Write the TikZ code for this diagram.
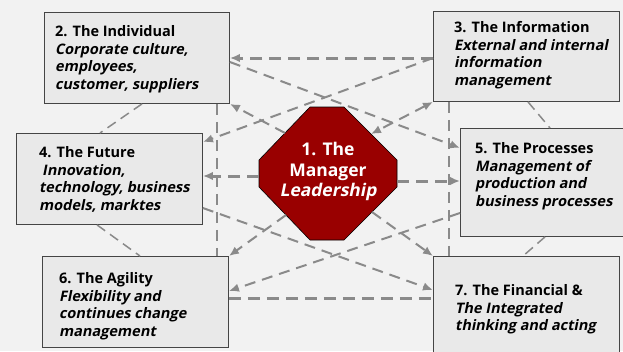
\documentclass[tikz,border=0pt]{standalone}
\usepackage{fontspec}
\setmainfont{Open Sans}
\newfontfamily\descfont[FakeSlant=0.2]{Open Sans}
\usetikzlibrary{arrows.meta}
\definecolor{bggray}{HTML}{F2F2F2}
\definecolor{boxgray}{HTML}{E9E9E9}
\definecolor{boxline}{HTML}{454545}
\definecolor{lnkgray}{HTML}{8A8A8A}
\definecolor{mgrred}{HTML}{990000}
\newcommand{\desc}{\descfont\bfseries}

\begin{document}
\begin{tikzpicture}[x=1pt,y=-1pt,>={Latex[length=10pt,width=8.5pt]},
  box/.style={rectangle,draw=boxline,line width=0.9pt,fill=boxgray,anchor=north west,inner sep=0pt},
  txt/.style={anchor=north west,align=left,inner sep=0pt,font=\fontsize{14.5}{17.8}\selectfont\bfseries},
  mgrtxt/.style={anchor=north,align=center,inner sep=0pt,text=white,font=\fontsize{17.5}{20.5}\selectfont\bfseries},
  lnk/.style={draw=lnkgray,line width=2pt,dash pattern=on 11pt off 7pt},
  bar/.style={lnk,line width=3pt,dash pattern=on 12pt off 7pt},
  tie/.style={lnk,line width=1.5pt,dash pattern=on 10pt off 6pt}]

	\useasboundingbox (0,0) rectangle (623,351);
	\fill[bggray] (0,0) rectangle (623,351);

	% the six fields
	\node[box, minimum width=185, minimum height=91] (ind) at (44,12) {};
	\node[box, minimum width=186, minimum height=90] (inf) at (433,11) {};
	\node[box, minimum width=186, minimum height=91] (fut) at (16,133) {};
	\node[box, minimum width=170, minimum height=108] (pro) at (460,128) {};
	\node[box, minimum width=186, minimum height=91] (agi) at (42,256) {};
	\node[box, minimum width=186, minimum height=110] (fin) at (433,256) {};

	\node[txt] (indt) at (55,25) {2. The Individual\\\desc Corporate culture,\\\desc employees,\\\desc customer, suppliers};
	\node[txt] (inft) at (454,21) {3. The Information\\\desc External and internal\\\desc information\\\desc management};
	\node[txt] (futt) at (39,146) {4. The Future\\\hspace{3pt}\desc Innovation,\\\desc technology, business\\\desc models, marktes};
	\node[txt] (prot) at (475,142) {5. The Processes\\\desc Management of\\\desc production and\\\desc business processes};
	\node[txt] (agit) at (59,272) {6. The Agility\\\desc Flexibility and\\\desc continues change\\\desc management};
	\node[txt] (fint) at (455,284) {7. The Financial \&\\\desc The Integrated\\\desc thinking and acting};

	% links between the fields
	\draw[tie] (142,0 |- ind.south) -- (100,0 |- fut.north);
	\draw[tie] (97,0 |- fut.south) -- (140,0 |- agi.north);
	\draw[tie] (528,0 |- inf.south) -- (550,0 |- pro.north);
	\draw[tie] (545,0 |- pro.south) -- (523,0 |- fin.north);
	\draw[lnk] (217,0 |- ind.south) -- (217,0 |- agi.north);
	\draw[lnk] (449,0 |- inf.south) -- (449,0 |- fin.north);
	\draw[bar,->] (inf.west |- 0,58) -- (ind.east |- 0,58);
	\draw[bar] (agi.east |- 0,298) -- (fin.west |- 0,298);
	\draw[lnk,->] (inf.west |- 0,58) -- (fut.east |- 0,142);
	\draw[lnk,->] (ind.east |- 0,62) -- (pro.west |- 0,148);
	\draw[lnk,->] (pro.west |- 0,213) -- (agi.east |- 0,291);
	\draw[lnk,->] (fut.east |- 0,208) -- (fin.west |- 0,290);

	% the manager in the middle
	\filldraw[fill=mgrred,draw=black,line width=0.6pt] (310,107) -- (344,107) -- (397,160) -- (397,187)
		-- (344,240) -- (310,240) -- (259,187) -- (259,160) -- cycle;
	\coordinate (mgrW) at (259,176);
	\coordinate (mgrE) at (397,181);
	\coordinate (mgrNW) at (285,133);
	\coordinate (mgrNE) at (371,134);
	\coordinate (mgrSW) at (286,215);
	\coordinate (mgrSE) at (372,212);
	\node[mgrtxt] (mgr) at (328,142) {1. The\\Manager\\\desc Leadership};

	\draw[bar,->] (mgrW) -- (fut.east |- mgrW);
	\draw[bar,->] (mgrE) -- (pro.west |- mgrE);
	\draw[lnk,->] (mgrNW) -- (ind.south east);
	\draw[lnk,<->] (inf.south west) -- (mgrNE);
	\draw[lnk,->] (mgrSW) -- (agi.north east);
	\draw[lnk,->] (mgrSE) -- (fin.north west);
\end{tikzpicture}
\end{document}
